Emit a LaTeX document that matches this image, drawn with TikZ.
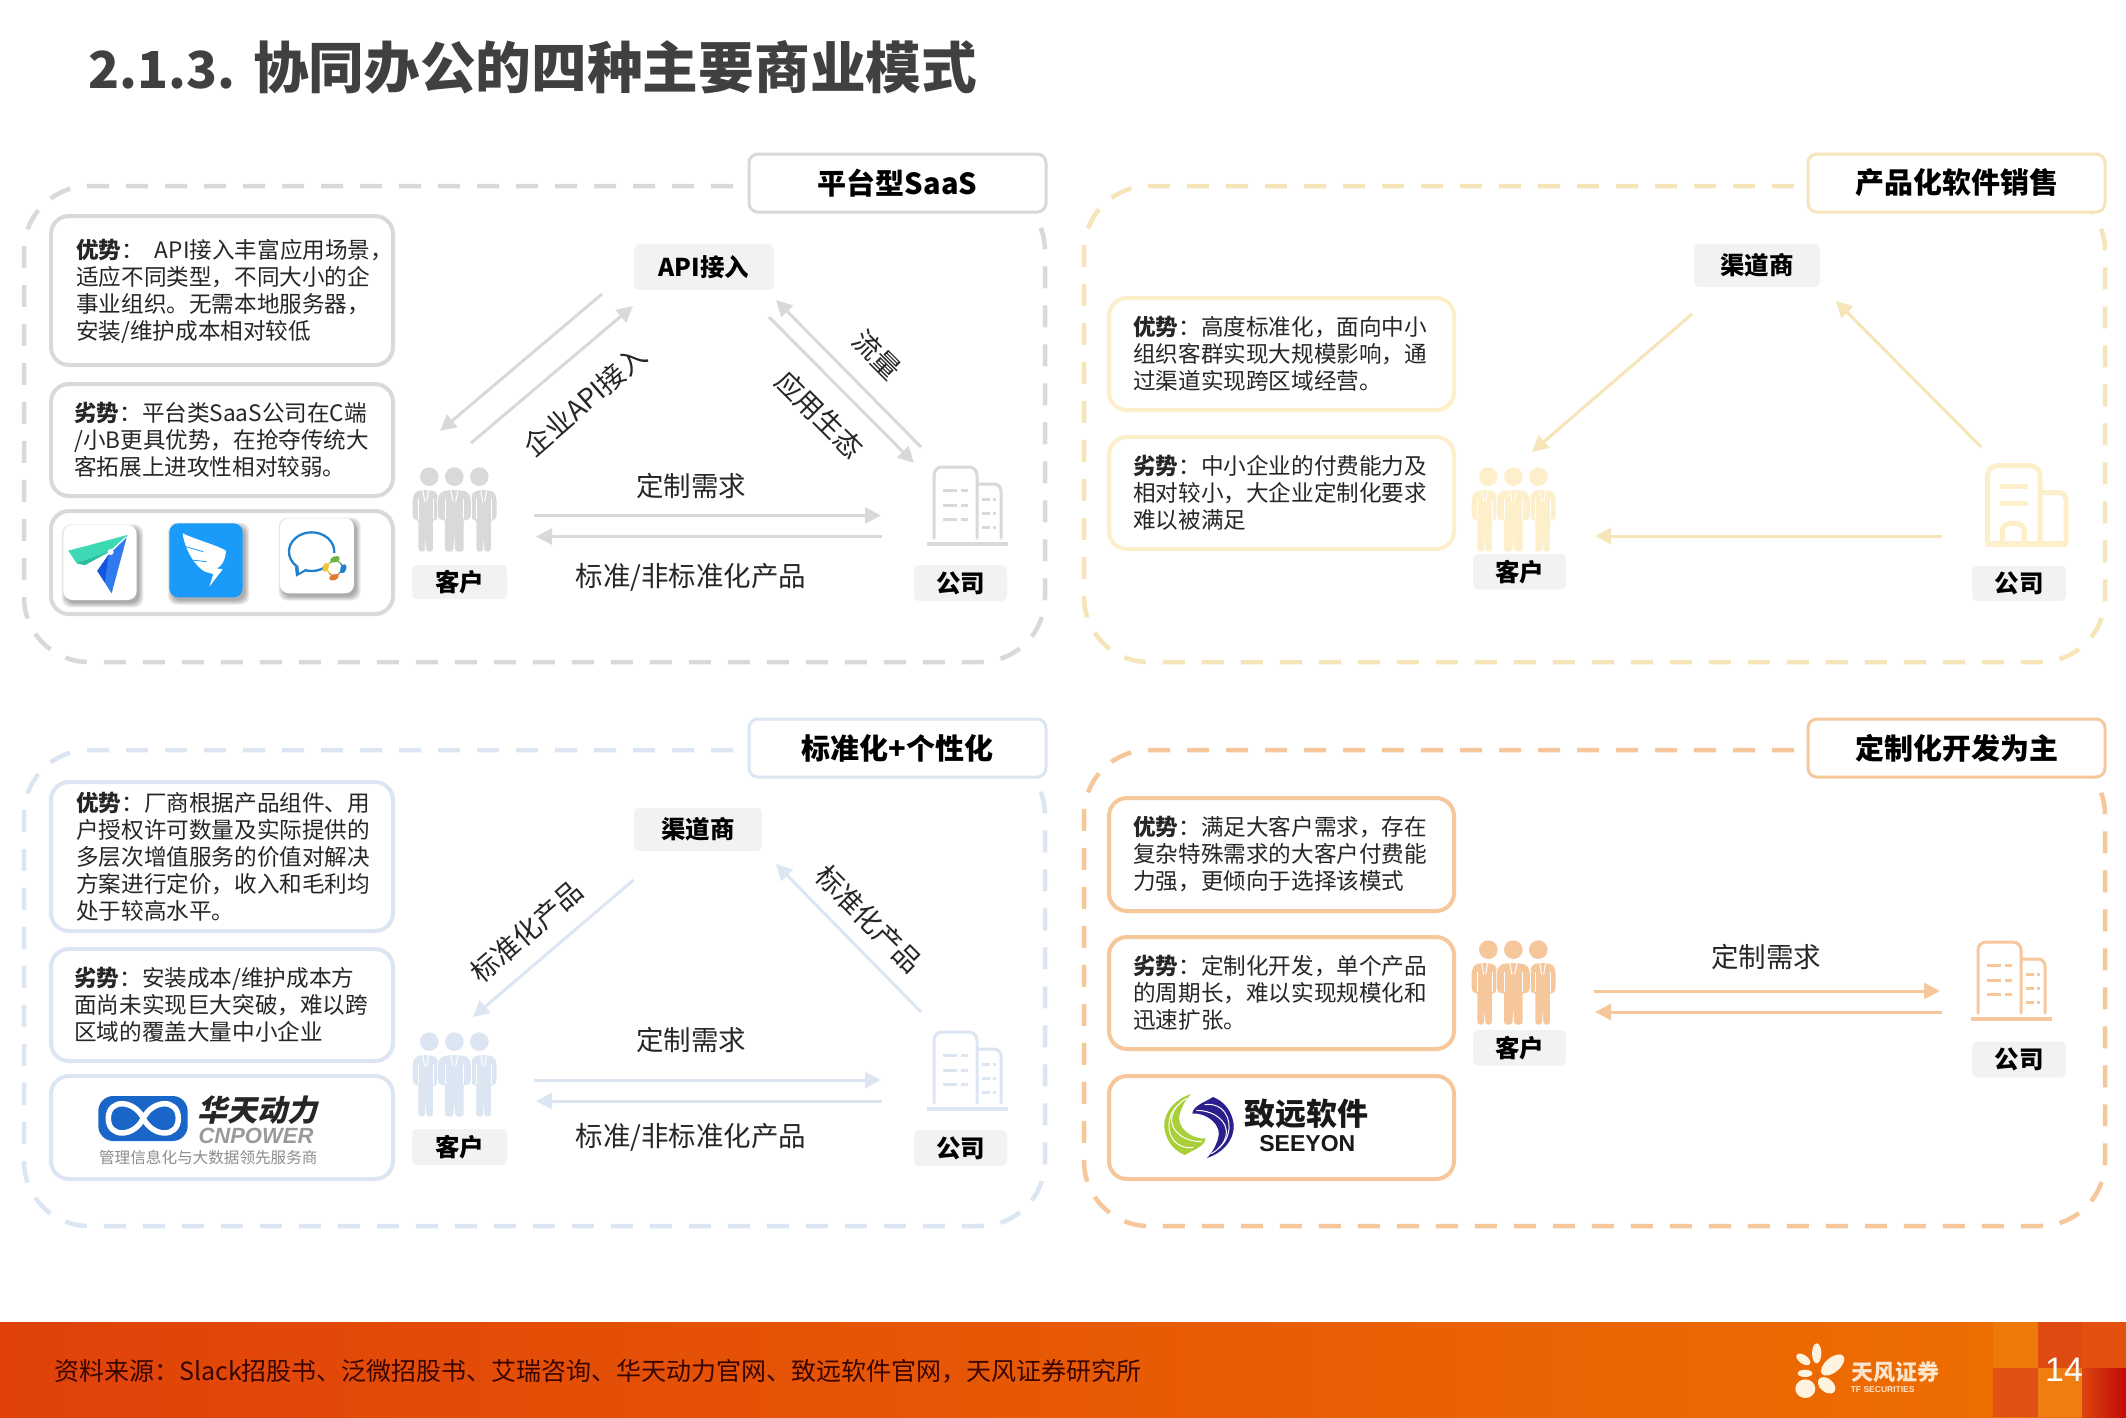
\documentclass[tikz,border=0pt]{standalone}
\usepackage{fontspec}
\setmainfont{Noto Sans CJK SC}
\newfontfamily\lsans{Liberation Sans}
\usetikzlibrary{arrows.meta}
\definecolor{gline}{HTML}{D9D9D9}
\definecolor{yline}{HTML}{F6E5B8}
\definecolor{bline}{HTML}{DCE6F3}
\definecolor{oline}{HTML}{F7C79C}
\definecolor{ybox}{HTML}{FDEFCA}
\definecolor{txt}{HTML}{262626}
\definecolor{labfill}{HTML}{F2F2F2}
\definecolor{teal1}{HTML}{3DD9B5}
\definecolor{teal2}{HTML}{2DBD9E}
\definecolor{blue1}{HTML}{2F7BEF}
\definecolor{blue2}{HTML}{1554E0}
\definecolor{blue3}{HTML}{1A9BFA}
\definecolor{blue4}{HTML}{2080CC}
\definecolor{dotg}{HTML}{6DB33F}
\definecolor{doty}{HTML}{F2C230}
\definecolor{doto}{HTML}{E07B2E}
\definecolor{pill}{HTML}{1A66C8}
\definecolor{swg}{HTML}{A8CF38}
\definecolor{swn}{HTML}{2A1F8C}
\definecolor{footl}{HTML}{E0420A}
\definecolor{footm}{HTML}{E65808}
\definecolor{footr}{HTML}{EE7000}
\definecolor{sqa}{HTML}{EE7A0A}
\definecolor{sqb}{HTML}{DF5214}
\definecolor{sqc}{HTML}{DE4A12}
\definecolor{sqd}{HTML}{EF7D10}
\definecolor{sqe}{HTML}{E4500E}
\definecolor{sqf}{HTML}{DD4510}
\definecolor{sqg}{HTML}{C00A05}
\definecolor{srcc}{HTML}{3A0500}
\definecolor{petal}{HTML}{FFF3E0}
\definecolor{tfc}{HTML}{FCE5CC}
\tikzset{
  arr/.style={line width=3pt,-{Triangle[length=16pt,width=16pt]}},
  bodytext/.style={anchor=west,align=left,inner sep=0pt,text=txt,font=\fontsize{22.6}{27}\selectfont},
  flowtext/.style={inner sep=0pt,text=txt,font=\fontsize{27.5}{30}\selectfont},
  roundbox/.style={rounded corners=18pt,line width=4pt,fill=white,inner sep=0pt},
  titlebox/.style={rounded corners=9pt,line width=3pt,fill=white,inner sep=0pt,text=black,font=\fontsize{29}{32}\selectfont\bfseries},
  labbox/.style={rounded corners=5pt,fill=labfill,inner sep=0pt,text=black,font=\fontsize{24.5}{28}\selectfont\bfseries},
  panelline/.style={line width=4.5pt,dash pattern=on 22pt off 17pt,rounded corners=65pt}
}
\newcommand{\rbox}[6]{\node[roundbox,draw=#6,minimum width={(#4-#2)*1pt},minimum height={(#5-#3)*1pt}] (#1) at ({(#2+#4)/2},{(#3+#5)/2}) {};}
\newcommand{\tbox}[7]{\node[titlebox,draw=#6,minimum width={(#4-#2)*1pt},minimum height={(#5-#3)*1pt}] (#1) at ({(#2+#4)/2},{(#3+#5)/2}) {#7};}
\newcommand{\lab}[6]{\node[labbox,minimum width={(#4-#2)*1pt},minimum height={(#5-#3)*1pt}] (#1) at ({(#2+#4)/2},{(#3+#5)/2}) {#6};}
\newcommand{\conn}[6]{\coordinate (#1s) at (#2,#3); \coordinate (#1e) at (#4,#5); \draw[arr,#6] (#1s) -- (#1e);}
\newcommand{\panel}[6]{\draw[panelline,#6] (#5,#2) -- (#1,#2) -- (#1,#4) -- (#3,#4) -- (#3,#2) -- ({#3-120},#2);}
\newcommand{\person}[4]{\begin{scope}[shift={(#1,0)},xscale=#2]
  \fill[#3] (#4,110) circle[x radius=28/#2,y radius=28];
  \fill[#3,rounded corners=3pt] (-12,150) -- (-40,155) -- (-50,175) -- (-50,232) -- (-38,243) -- (-28,236) -- (-28,335) -- (-3,335) -- (0,285) -- (3,335) -- (28,335) -- (28,236) -- (38,243) -- (50,232) -- (50,175) -- (40,155) -- (12,150) -- cycle;
  \draw[white,line width=1pt] (-11,150) -- (-4,185) (11,150) -- (4,185);
  \draw[white,line width=.8pt] (-28,178) -- (-28,236) (28,178) -- (28,236);
\end{scope}}
\newcommand{\people}[3]{\begin{scope}[shift={(#1,#2)},x=.3333pt,y=-.3333pt]
  \person{107}{.78}{#3}{14}\person{281}{.78}{#3}{-16.7}
  \draw[white,line width=1.4pt] (143,170) -- (143,240) (243,170) -- (243,240);
  \person{193}{1}{#3}{0}
\end{scope}}
\newcommand{\building}[3]{\begin{scope}[shift={(#1,#2)},line width=3pt,#3,line cap=round]
  \draw[rounded corners=8pt] (19,83) -- (19,12) -- (62,12) -- (62,83);
  \draw[rounded corners=7pt] (62,29) -- (86,29) -- (86,83);
  \draw[line width=3.5pt,line cap=butt] (12,89) -- (93,89);
  \foreach \yy in {35,50,64} {\draw[line cap=butt] (28,\yy) -- (42,\yy) (46,\yy) -- (53,\yy);}
  \foreach \yy in {44,58,72} {\draw[line cap=butt] (67,\yy) -- (75,\yy) (78,\yy) -- (81,\yy);}
\end{scope}}
\newcommand{\iconshadow}[4]{\foreach \g in {12,8,4,0} {\fill[black,opacity=.09,rounded corners=9pt] ({#1+8-\g},{#2+10-\g}) rectangle ({#3+8+\g},{#4+10+\g});}}
\newcommand{\swirl}[1]{\fill[#1] (258,72) .. controls (190,95) and (170,150) .. (180,185) .. controls (190,225) and (215,245) .. (240,255) .. controls (262,240) and (300,230) .. (302,205) .. controls (260,210) and (210,170) .. (225,130) .. controls (232,105) and (245,85) .. (258,72) -- cycle;
  \draw[white,line width=1pt] (245,85) .. controls (200,110) and (180,160) .. (225,195) .. controls (245,210) and (270,215) .. (290,215);
  \draw[white,line width=1pt] (225,100) .. controls (185,130) and (180,190) .. (215,220) .. controls (230,232) and (250,235) .. (265,232);}
\begin{document}
\begin{tikzpicture}[x=1pt,y=-1pt]
\useasboundingbox (0,0) rectangle (2126,1417);
\fill[white] (0,0) rectangle (2126,1417);

% title
\node[anchor=west,inner sep=0pt,text=black!75,font=\fontsize{55.7}{60}\selectfont\bfseries] (heading) at (88,67) {{\fontsize{51}{60}\selectfont 2.1.3.}\hspace{18pt}协同办公的四种主要商业模式};

% ---------- panel 1
\panel{24}{186}{1045}{662}{733}{gline}
\tbox{t1}{749}{154}{1046}{212}{gline}{平台型SaaS}
\rbox{b11}{51}{216}{393}{365}{gline}
\node[bodytext] (x11) at (76,291) {\textbf{优势}：\hspace{11pt}API接入丰富应用场景，\\适应不同类型，不同大小的企\\事业组织。无需本地服务器，\\安装/维护成本相对较低};
\rbox{b12}{51}{384}{393}{496}{gline}
\node[bodytext] (x12) at (74,440) {\textbf{劣势}：平台类SaaS公司在C端\\/小B更具优势，在抢夺传统大\\客拓展上进攻性相对较弱。};
\rbox{b13}{51}{511}{393}{614}{gline}
\begin{scope}[shift={(40,510)},x=.3333pt,y=-.3333pt]
  \iconshadow{70}{45}{290}{270}
  \fill[white,rounded corners=9pt] (70,45) rectangle (290,270);
  \fill[teal1] (85,122) -- (262,75) -- (210,122) -- (135,165) -- (110,160) -- cycle;
  \fill[teal2] (110,160) -- (215,122) -- (135,165) -- cycle;
  \fill[blue1] (262,75) -- (215,250) -- (172,183) -- (205,135) -- cycle;
  \fill[blue2] (205,135) -- (172,183) -- (195,218) -- cycle;
  \draw[white,line width=1pt] (212,126) -- (260,80);
  \fill[white] (212,126) circle[radius=9];
  \iconshadow{388}{40}{608}{262}
  \fill[blue3,rounded corners=9pt] (388,40) rectangle (608,262);
  \fill[white] (428,70) .. controls (470,90) and (530,105) .. (558,122) .. controls (556,150) and (545,170) .. (530,175) -- (548,178) -- (508,230) -- (520,192) -- (497,186) .. controls (465,170) and (435,120) .. (428,70) -- cycle;
  \draw[blue3,line width=.8pt] (437,110) -- (490,125) (455,150) -- (500,155);
  \iconshadow{720}{25}{942}{250}
  \fill[white,rounded corners=9pt] (720,25) rectangle (942,250);
  \draw[blue4,line width=2.3pt] (815,125) circle[x radius=68,y radius=58];
  \fill[blue4] (765,170) -- (768,200) -- (805,180) -- cycle;
  \fill[white] (775,168) -- (778,188) -- (800,174) -- cycle;
  \fill[white] (850,130) rectangle (915,205);
  \draw[line width=1.2pt,dotg] (868,160) -- (885,148) -- (902,160);
  \draw[line width=1.2pt,doty] (868,160) -- (857,172) -- (868,190);
  \draw[line width=1.2pt,blue4] (902,160) -- (910,176) -- (898,190);
  \draw[line width=1.2pt,doto] (868,190) -- (882,202) -- (898,190);
  \fill[dotg,rotate around={20:(885,148)}] (885,148) circle[x radius=15,y radius=9];
  \fill[doty,rotate around={-20:(857,172)}] (857,172) circle[x radius=9,y radius=14];
  \fill[blue4,rotate around={-20:(910,176)}] (910,176) circle[x radius=9,y radius=14];
  \fill[doto,rotate around={20:(882,202)}] (882,202) circle[x radius=15,y radius=9];
\end{scope}
\lab{n1}{634}{244}{774}{290}{API接入}
\conn{a11}{602}{294}{440}{431}{gline}
\conn{a12}{471}{443}{633}{306}{gline}
\conn{a13}{921}{447}{776}{300}{gline}
\conn{a14}{769}{317}{914}{463}{gline}
\conn{a15}{534}{515.5}{881}{515.5}{gline}
\conn{a16}{882}{536.5}{536}{536.5}{gline}
\node[flowtext,rotate=41] (f11) at (585,401) {企业API接入};
\node[flowtext,rotate=-45] (f12) at (819.5,414.5) {应用生态};
\node[flowtext,rotate=-45] (f13) at (877,355) {流量};
\node[flowtext] (f14) at (691,486) {定制需求};
\node[flowtext] (f15) at (691,577) {标准/非标准化产品};
\people{390}{440}{gline}
\building{915}{455}{gline}
\lab{c1}{412}{565}{507}{599}{客户}
\lab{g1}{914}{565}{1007}{601}{公司}

% ---------- panel 2
\panel{1084}{186}{2105}{662}{1794}{yline}
\tbox{t2}{1808}{154}{2105}{212}{yline}{产品化软件销售}
\rbox{b21}{1109}{298}{1454}{410}{ybox}
\node[bodytext] (x21) at (1133,354) {\textbf{优势}：高度标准化，面向中小\\组织客群实现大规模影响，通\\过渠道实现跨区域经营。};
\rbox{b22}{1109}{437}{1454}{549}{ybox}
\node[bodytext] (x22) at (1133,493) {\textbf{劣势}：中小企业的付费能力及\\相对较小，大企业定制化要求\\难以被满足};
\lab{n2}{1694}{244}{1820}{287}{渠道商}
\conn{a21}{1692}{314}{1532}{452}{yline}
\conn{a22}{1981}{447}{1836}{301}{yline}
\conn{a23}{1942}{536}{1595}{536}{yline}
\people{1449}{440}{ybox}
\begin{scope}[shift={(1960,450)},x=.3333pt,y=-.3333pt,ybox,line width=5pt]
  \draw[rounded corners=10pt] (82,280) -- (82,47) -- (240,47) -- (240,280);
  \draw[rounded corners=7pt] (240,128) -- (318,128) -- (318,280);
  \draw[line width=6pt] (78,282) -- (322,282);
  \draw (120,108) -- (205,108) (120,160) -- (205,160);
  \draw[rounded corners=8pt] (127,280) -- (127,220) -- (193,220) -- (193,280);
\end{scope}
\lab{c2}{1473}{554}{1566}{589.5}{客户}
\lab{g2}{1972}{566}{2066}{601}{公司}

% ---------- panel 3
\panel{24}{750}{1045}{1226}{733}{bline}
\tbox{t3}{749}{719}{1046}{777}{bline}{标准化+个性化}
\rbox{b31}{51}{782}{393}{931}{bline}
\node[bodytext] (x31) at (76,857) {\textbf{优势}：厂商根据产品组件、用\\户授权许可数量及实际提供的\\多层次增值服务的价值对解决\\方案进行定价，收入和毛利均\\处于较高水平。};
\rbox{b32}{51}{949}{393}{1061}{bline}
\node[bodytext] (x32) at (74,1005) {\textbf{劣势}：安装成本/维护成本方\\面尚未实现巨大突破，难以跨\\区域的覆盖大量中小企业};
\rbox{b33}{51}{1076}{393}{1179}{bline}
\begin{scope}[shift={(40,1070)},x=.3333pt,y=-.3333pt]
  \fill[pill,rounded corners=15pt] (175,78) rectangle (443,213);
  \draw[white,line width=5.5pt] (310,145) .. controls (282,88) and (205,85) .. (205,145) .. controls (205,205) and (282,202) .. (310,145) .. controls (338,88) and (415,85) .. (415,145) .. controls (415,205) and (338,202) .. (310,145) -- cycle;
  \node[xslant=.22,transform shape,inner sep=0pt,text=black!85,font=\fontsize{30}{32}\selectfont\bfseries] (hta) at (660,120) {华天动力};
  \node[inner sep=0pt,text=black!40,font=\lsans\fontsize{22}{24}\selectfont\bfseries\itshape] (htb) at (648,198) {CNPOWER};
  \node[inner sep=0pt,text=black!45,font=\fontsize{15.6}{18}\selectfont] (htc) at (505,262) {管理信息化与大数据领先服务商};
\end{scope}
\lab{n3}{634}{808}{762}{851}{渠道商}
\conn{a31}{633.5}{880}{473}{1017}{bline}
\conn{a32}{921}{1012}{776}{864}{bline}
\conn{a33}{534}{1080}{881}{1080}{bline}
\conn{a34}{882}{1101}{536}{1101}{bline}
\node[flowtext,rotate=41] (f31) at (527,932) {标准化产品};
\node[flowtext,rotate=-45] (f32) at (869,919) {标准化产品};
\node[flowtext] (f33) at (691,1040) {定制需求};
\node[flowtext] (f34) at (691,1137) {标准/非标准化产品};
\people{390}{1005}{bline}
\building{915}{1020}{bline}
\lab{c3}{412}{1129}{507}{1165}{客户}
\lab{g3}{914}{1130}{1007}{1166}{公司}

% ---------- panel 4
\panel{1084}{750}{2105}{1226}{1794}{oline}
\tbox{t4}{1808}{719}{2105}{777}{oline}{定制化开发为主}
\rbox{b41}{1109}{798}{1454}{911}{oline}
\node[bodytext] (x41) at (1133,854) {\textbf{优势}：满足大客户需求，存在\\复杂特殊需求的大客户付费能\\力强，更倾向于选择该模式};
\rbox{b42}{1109}{937}{1454}{1049}{oline}
\node[bodytext] (x42) at (1133,993) {\textbf{劣势}：定制化开发，单个产品\\的周期长，难以实现规模化和\\迅速扩张。};
\rbox{b43}{1109}{1076}{1454}{1179}{oline}
\begin{scope}[shift={(1105,1070)},x=.3333pt,y=-.3333pt]
  \swirl{swg}
  \begin{scope}[rotate around={180:(282,168)}]\swirl{swn}\end{scope}
  \node[inner sep=0pt,text=black!90,font=\fontsize{31}{34}\selectfont\bfseries] (zya) at (605,130) {致远软件};
  \node[inner sep=0pt,text=black!90,font=\lsans\fontsize{23}{26}\selectfont\bfseries] (zyb) at (607,222) {SEEYON};
\end{scope}
\conn{a41}{1594}{991}{1940}{991}{oline}
\conn{a42}{1942}{1012}{1595}{1012}{oline}
\node[flowtext] (f41) at (1766,957) {定制需求};
\people{1449}{913}{oline}
\building{1959}{930}{oline}
\lab{c4}{1473}{1030}{1566}{1065.5}{客户}
\lab{g4}{1972}{1041.5}{2066}{1077.5}{公司}

% ---------- footer
\shade[left color=footl,middle color=footm,right color=footr] (0,1322) rectangle (2126,1417);
\fill[sqa] (1993,1322) rectangle (2038,1368);
\fill[sqb] (1993,1368) rectangle (2038,1417);
\fill[sqc] (2038,1322) rectangle (2082,1368);
\fill[sqd] (2038,1368) rectangle (2082,1417);
\fill[sqe] (2082,1322) rectangle (2126,1368);
\shade[left color=sqf,right color=sqg] (2082,1368) rectangle (2126,1417);
\node[anchor=west,inner sep=0pt,text=srcc,font=\fontsize{25}{28}\selectfont] (src) at (54,1371) {资料来源：Slack招股书、泛微招股书、艾瑞咨询、华天动力官网、致远软件官网，天风证券研究所};
\begin{scope}[shift={(1700,1300)},x=.3333pt,y=-.3333pt]
  \fill[petal] (350,160) circle[x radius=14,y radius=30];
  \fill[petal,rotate around={-35:(310,178)}] (310,178) circle[x radius=24,y radius=13];
  \fill[petal,rotate around={40:(398,195)}] (398,195) circle[x radius=42,y radius=22];
  \fill[petal] (315,220) circle[x radius=22,y radius=11];
  \fill[petal] (316,266) circle[x radius=30,y radius=28];
  \fill[petal,rotate around={-40:(380,256)}] (380,256) circle[x radius=30,y radius=20];
  \node[inner sep=0pt,text=tfc,font=\fontsize{22}{24}\selectfont\bfseries] (tfa) at (585,215) {天风证券};
  \node[inner sep=0pt,text=tfc,font=\lsans\fontsize{8.5}{10}\selectfont\bfseries] (tfb) at (548,270) {TF SECURITIES};
\end{scope}
\node[inner sep=0pt,text=white,font=\lsans\fontsize{34}{36}\selectfont] (pg) at (2064,1370) {14};
\end{tikzpicture}
\end{document}
